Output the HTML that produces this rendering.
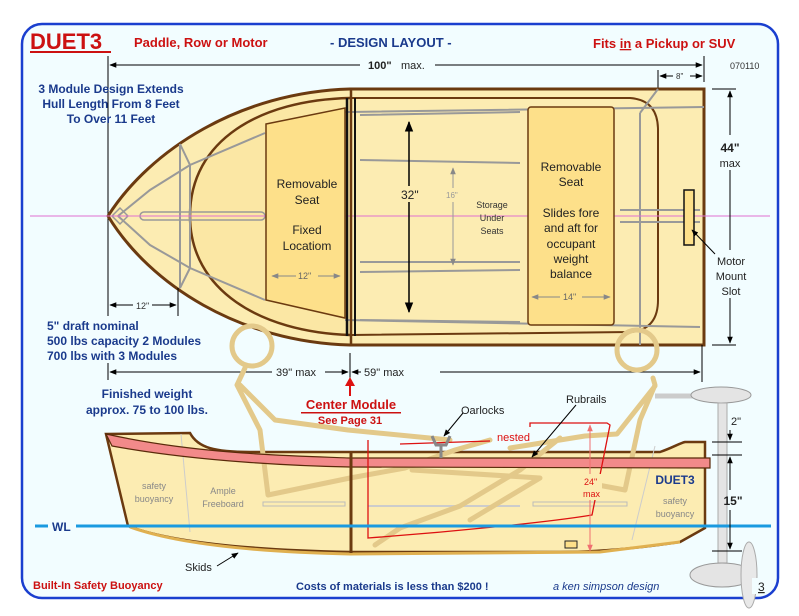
<!DOCTYPE html>
<html><head><meta charset="utf-8"><style>
html,body{margin:0;padding:0;background:#fff;}
svg{display:block;font-family:"Liberation Sans",sans-serif;}
</style></head><body>
<svg width="799" height="616" viewBox="0 0 799 616" xmlns="http://www.w3.org/2000/svg">
<defs>
<marker id="a" viewBox="0 0 10 10" refX="9" refY="5" markerWidth="7" markerHeight="7" orient="auto-start-reverse"><path d="M0,1 L10,5 L0,9 Z" fill="#000"/></marker>
<marker id="g" viewBox="0 0 10 10" refX="9" refY="5" markerWidth="7" markerHeight="7" orient="auto-start-reverse"><path d="M0,1 L10,5 L0,9 Z" fill="#888"/></marker>
<marker id="p" viewBox="0 0 10 10" refX="9" refY="5" markerWidth="7" markerHeight="7" orient="auto-start-reverse"><path d="M0,1 L10,5 L0,9 Z" fill="#f07070"/></marker>
</defs>
<rect x="22" y="24" width="756" height="574" rx="20" fill="#f2fdff" stroke="#1a3fcf" stroke-width="2.5"/>

<text x="30" y="49" font-size="22" font-weight="bold" fill="#cc1111">DUET3</text>
<rect x="30" y="51" width="81" height="2" fill="#cc1111"/>
<text x="134" y="47" font-size="13" font-weight="bold" fill="#cc1111">Paddle, Row or Motor</text>
<text x="330" y="47" font-size="13" font-weight="bold" fill="#1a3a8c">- DESIGN LAYOUT -</text>
<text x="593" y="48" font-size="13" font-weight="bold" fill="#cc1111">Fits <tspan text-decoration="underline">in</tspan> a Pickup or SUV</text>
<text x="730" y="69" font-size="9" fill="#333">070110</text>

<line x1="108" y1="56" x2="108" y2="316" stroke="#000"/>
<line x1="704" y1="56" x2="704" y2="82" stroke="#000"/>
<line x1="110" y1="65" x2="360" y2="65" stroke="#000" marker-start="url(#a)"/>
<line x1="435" y1="65" x2="702" y2="65" stroke="#000" marker-end="url(#a)"/>
<text x="368" y="69" font-size="11" font-weight="bold" fill="#222">100"</text><text x="401" y="69" font-size="11" fill="#222">max.</text>
<line x1="658" y1="70" x2="658" y2="90" stroke="#000"/>
<line x1="660" y1="76" x2="673" y2="76" stroke="#000" marker-start="url(#a)"/>
<line x1="690" y1="76" x2="702" y2="76" stroke="#000" marker-end="url(#a)"/>
<text x="676" y="79" font-size="8" fill="#333">8"</text>

<text font-size="12" font-weight="bold" fill="#1a3a8c" text-anchor="middle"><tspan x="111" y="93">3 Module Design Extends</tspan><tspan x="111" y="108">Hull Length From 8 Feet</tspan><tspan x="111" y="123">To Over 11 Feet</tspan></text>

<path d="M108,216 C150,150 240,92 350,89 L704,89 L704,345 L350,345 C240,342 150,285 108,216 Z" fill="#fcecb2" stroke="#6b3a10" stroke-width="3"/>
<path d="M350,98 C260,100 190,140 190,216 C190,290 260,332 350,335" fill="#fbe7a4" stroke="#6b3a10" stroke-width="2.5"/>
<path d="M352,98 L630,98 Q658,100 658,130 L658,300 Q658,330 630,332 L352,335" fill="none" stroke="#6b3a10" stroke-width="2"/>
<g stroke="#999" stroke-width="2" fill="none">
<path d="M118,216 L150,190 L190,165 L265,133"/>
<path d="M118,216 L150,245 L190,268 L265,300"/>
<path d="M180,144 L180,288 L190,268"/>
<path d="M180,144 L190,165 L190,268"/>
<path d="M345,112 L350,112 L704,107"/>
<path d="M345,320 L700,327"/>
<path d="M640,113 L640,345 M658,89 L640,113"/>
<path d="M360,115 L520,112 M360,160 L520,163 M360,262 L520,262 M360,272 L520,270 M360,320 L520,322 M620,210 L700,210 M620,222 L700,222"/>
<rect x="140" y="212" width="125" height="8" rx="4" stroke-width="1.5"/>
</g>
<path d="M112,216 L120,208 L128,216 L120,224 Z" fill="none" stroke="#999" stroke-width="1.5"/>
<line x1="30" y1="216" x2="770" y2="216" stroke="#e070d0" stroke-width="1"/>
<line x1="347" y1="98" x2="347" y2="336" stroke="#111" stroke-width="2.5"/>
<line x1="355" y1="98" x2="355" y2="336" stroke="#111" stroke-width="2"/>
<line x1="351" y1="89" x2="351" y2="345" stroke="#6b3a10" stroke-width="2.5"/>

<path d="M266,124 L345,108 L345,318 L266,300 Z" fill="#fde08a" stroke="#6b3a10" stroke-width="1.5"/>
<text font-size="12" fill="#222" text-anchor="middle"><tspan x="307" y="188">Removable</tspan><tspan x="307" y="204">Seat</tspan><tspan x="307" y="234">Fixed</tspan><tspan x="307" y="250">Locatiom</tspan></text>
<line x1="272" y1="276" x2="296" y2="276" stroke="#888" marker-start="url(#g)"/><line x1="318" y1="276" x2="340" y2="276" stroke="#888" marker-end="url(#g)"/>
<text x="298" y="279" font-size="9" fill="#666">12"</text>

<rect x="528" y="107" width="86" height="218" rx="3" fill="#fde08a" stroke="#6b3a10" stroke-width="1.5"/>
<text font-size="12" fill="#222" text-anchor="middle"><tspan x="571" y="171">Removable</tspan><tspan x="571" y="186">Seat</tspan><tspan x="571" y="217">Slides fore</tspan><tspan x="571" y="232">and aft for</tspan><tspan x="571" y="248">occupant</tspan><tspan x="571" y="263">weight</tspan><tspan x="571" y="278">balance</tspan></text>
<line x1="532" y1="297" x2="560" y2="297" stroke="#888" marker-start="url(#g)"/><line x1="582" y1="297" x2="610" y2="297" stroke="#888" marker-end="url(#g)"/>
<text x="563" y="300" font-size="9" fill="#666">14"</text>

<line x1="409" y1="186" x2="409" y2="122" stroke="#000" stroke-width="1.5" marker-end="url(#a)"/>
<line x1="409" y1="202" x2="409" y2="312" stroke="#000" stroke-width="1.5" marker-end="url(#a)"/>
<text x="401" y="199" font-size="12" fill="#222">32"</text>
<line x1="453" y1="188" x2="453" y2="168" stroke="#999" marker-end="url(#g)"/>
<line x1="453" y1="202" x2="453" y2="265" stroke="#999" marker-end="url(#g)"/>
<text x="446" y="198" font-size="8" fill="#999">16"</text>
<text font-size="9" fill="#333" text-anchor="middle"><tspan x="492" y="208">Storage</tspan><tspan x="492" y="221">Under</tspan><tspan x="492" y="234">Seats</tspan></text>

<rect x="684" y="190" width="10" height="55" fill="#fde08a" stroke="#111" stroke-width="1.5"/>
<line x1="712" y1="89" x2="736" y2="89" stroke="#000"/>
<line x1="712" y1="345" x2="736" y2="345" stroke="#000"/>
<line x1="730" y1="135" x2="730" y2="91" stroke="#000" marker-end="url(#a)"/>
<line x1="730" y1="170" x2="730" y2="250" stroke="#000"/>
<line x1="730" y1="298" x2="730" y2="343" stroke="#000" marker-end="url(#a)"/>
<text x="730" y="152" font-size="12" font-weight="bold" fill="#222" text-anchor="middle">44"</text>
<text x="730" y="167" font-size="11" fill="#222" text-anchor="middle">max</text>
<text font-size="11" fill="#222" text-anchor="middle"><tspan x="731" y="265">Motor</tspan><tspan x="731" y="280">Mount</tspan><tspan x="731" y="295">Slot</tspan></text>
<line x1="715" y1="254" x2="692" y2="230" stroke="#000" marker-end="url(#a)"/>

<line x1="110" y1="305" x2="133" y2="305" stroke="#000" marker-start="url(#a)"/>
<line x1="152" y1="305" x2="176" y2="305" stroke="#000" marker-end="url(#a)"/>
<line x1="178" y1="288" x2="178" y2="316" stroke="#000"/>
<text x="136" y="309" font-size="9" fill="#333">12"</text>

<text font-size="12" font-weight="bold" fill="#1a3a8c"><tspan x="47" y="330">5" draft nominal</tspan><tspan x="47" y="345">500 lbs capacity 2 Modules</tspan><tspan x="47" y="360">700 lbs with 3 Modules</tspan></text>

<line x1="108" y1="363" x2="108" y2="380" stroke="#000"/>
<line x1="350" y1="353" x2="350" y2="380" stroke="#000"/>
<line x1="702" y1="345" x2="702" y2="382" stroke="#000"/>
<line x1="110" y1="372" x2="272" y2="372" stroke="#000" marker-start="url(#a)"/>
<line x1="325" y1="372" x2="348" y2="372" stroke="#000" marker-end="url(#a)"/>
<text x="276" y="376" font-size="11" fill="#222">39" max</text>
<line x1="352" y1="372" x2="361" y2="372" stroke="#000" marker-start="url(#a)"/>
<line x1="440" y1="372" x2="700" y2="372" stroke="#000" marker-end="url(#a)"/>
<text x="364" y="376" font-size="11" fill="#222">59" max</text>
<path d="M350,396 L350,384" stroke="#dd1111" stroke-width="2"/><path d="M345,386 L350,377 L355,386 Z" fill="#dd1111"/>
<text x="351" y="409" font-size="13" font-weight="bold" fill="#cc1111" text-anchor="middle">Center Module</text>
<rect x="301" y="412" width="100" height="1.5" fill="#cc1111"/>
<text x="350" y="424" font-size="11" font-weight="bold" fill="#cc1111" text-anchor="middle">See Page 31</text>
<text font-size="12" font-weight="bold" fill="#1a3a8c" text-anchor="middle"><tspan x="147" y="398">Finished weight</tspan><tspan x="147" y="414">approx. 75 to 100 lbs.</tspan></text>

<line x1="655" y1="396" x2="700" y2="396" stroke="#ccc" stroke-width="5"/>
<ellipse cx="721" cy="395" rx="30" ry="8" fill="#e4e4e4" stroke="#999"/>
<rect x="718" y="403" width="9" height="160" fill="#e4e4e4" stroke="#aaa"/>
<ellipse cx="722" cy="575" rx="32" ry="12" fill="#e4e4e4" stroke="#999"/>
<ellipse cx="749" cy="575" rx="8" ry="33" fill="#e8e8e8" stroke="#aaa"/>

<path d="M106,434 L190,433 C198,448 215,452 250,452 L660,452 C672,448 680,443 685,442 L705,442 L705,528 L680,542 C640,548 600,552 560,552 L350,552 C250,550 170,542 128,526 Z" fill="#fcecb2" stroke="#6b3a10" stroke-width="2.5"/>
<path d="M130,527 C180,545 260,552 350,554 L600,552 L680,542" fill="none" stroke="#e0b050" stroke-width="3"/>
<line x1="181" y1="434" x2="190" y2="532" stroke="#ccc"/>
<line x1="655" y1="446" x2="632" y2="540" stroke="#ccc"/>
<rect x="263" y="502" width="82" height="4" fill="none" stroke="#bbb"/>
<rect x="533" y="502" width="94" height="4" fill="none" stroke="#bbb"/>
<line x1="368" y1="506" x2="520" y2="506" stroke="#ccc" stroke-width="2"/>

<g stroke="#e3c98a" stroke-width="5" fill="none" stroke-linecap="round" stroke-linejoin="round">
<circle cx="252" cy="346" r="20"/>
<path d="M245,368 L237,385 L260,430 L268,495 L350,478 L405,468 L455,450 L490,440 M240,385 L275,420 L348,430 L450,440"/>
<circle cx="637" cy="350" r="20"/>
<path d="M653,378 L655,385 L640,420 L625,490 L598,485 M655,386 L617,434 L585,436 L510,448 M560,438 L520,470 L460,506 L400,528 L375,545 M412,470 L540,478 L470,520"/>
</g>

<path d="M106,434 C200,455 300,456 350,458 L710,458 L710,468 L350,467 C300,466 200,462 112,446 Z" fill="#f28a8a" stroke="#5a2a0a" stroke-width="1.2"/>
<line x1="351" y1="453" x2="351" y2="553" stroke="#6b3a10" stroke-width="3"/>
<rect x="565" y="541" width="12" height="7" fill="#fde08a" stroke="#222"/>

<g stroke="#dd1111" stroke-width="1.3" fill="none">
<path d="M368,440 L368,538 C450,532 550,522 592,515 L610,425 L607,423 L530,423 L530,427"/>
<path d="M400,444 L490,441"/>
</g>
<line x1="590" y1="536" x2="590" y2="425" stroke="#f07070" marker-end="url(#p)"/>
<line x1="590" y1="505" x2="590" y2="551" stroke="#f07070" marker-end="url(#p)"/>
<rect x="582" y="474" width="20" height="26" fill="#fcecb2"/>
<text x="584" y="485" font-size="9" fill="#dd1111">24"</text>
<text x="583" y="497" font-size="9" fill="#dd1111">max</text>
<text x="497" y="441" font-size="11" fill="#dd1111">nested</text>

<path d="M432,436 L436,445 L446,445 L450,436 M441,445 L441,458" stroke="#888" stroke-width="3" fill="none"/>
<text x="461" y="414" font-size="11" fill="#222">Oarlocks</text>
<line x1="463" y1="413" x2="444" y2="436" stroke="#000" marker-end="url(#a)"/>
<text x="566" y="403" font-size="11" fill="#222">Rubrails</text>
<line x1="576" y1="405" x2="532" y2="457" stroke="#000" marker-end="url(#a)"/>

<text x="675" y="484" font-size="12" font-weight="bold" fill="#1a3a8c" text-anchor="middle">DUET3</text>
<text font-size="9" fill="#888" text-anchor="middle"><tspan x="675" y="504">safety</tspan><tspan x="675" y="517">buoyancy</tspan><tspan x="154" y="489">safety</tspan><tspan x="154" y="502">buoyancy</tspan><tspan x="223" y="494">Ample</tspan><tspan x="223" y="507">Freeboard</tspan></text>

<line x1="35" y1="526" x2="48" y2="526" stroke="#1a9ae0" stroke-width="3"/>
<line x1="76" y1="526" x2="771" y2="526" stroke="#1a9ae0" stroke-width="3"/>
<text x="52" y="531" font-size="12" font-weight="bold" fill="#1a3a8c">WL</text>

<line x1="712" y1="442" x2="742" y2="442" stroke="#000"/>
<line x1="712" y1="455" x2="742" y2="455" stroke="#000"/>
<line x1="712" y1="551" x2="742" y2="551" stroke="#000"/>
<line x1="730" y1="430" x2="730" y2="440" stroke="#000" marker-end="url(#a)"/>
<line x1="730" y1="490" x2="730" y2="457" stroke="#000" marker-end="url(#a)"/>
<line x1="730" y1="510" x2="730" y2="549" stroke="#000" marker-end="url(#a)"/>
<text x="736" y="425" font-size="11" fill="#222" text-anchor="middle">2"</text>
<text x="733" y="505" font-size="12" font-weight="bold" fill="#222" text-anchor="middle">15"</text>

<text x="185" y="571" font-size="11" fill="#222">Skids</text>
<line x1="217" y1="566" x2="238" y2="553" stroke="#000" marker-end="url(#a)"/>

<text x="33" y="589" font-size="11" font-weight="bold" fill="#cc1111">Built-In Safety Buoyancy</text>
<text x="296" y="590" font-size="11" font-weight="bold" fill="#1a3a8c">Costs of materials is less than $200  !</text>
<text x="553" y="590" font-size="11" font-style="italic" fill="#1a3a8c">a ken simpson design</text>
<rect x="752" y="578" width="14" height="16" fill="#f2fdff"/>
<text x="758" y="591" font-size="12" fill="#222" text-decoration="underline">3</text>
</svg>
</body></html>
